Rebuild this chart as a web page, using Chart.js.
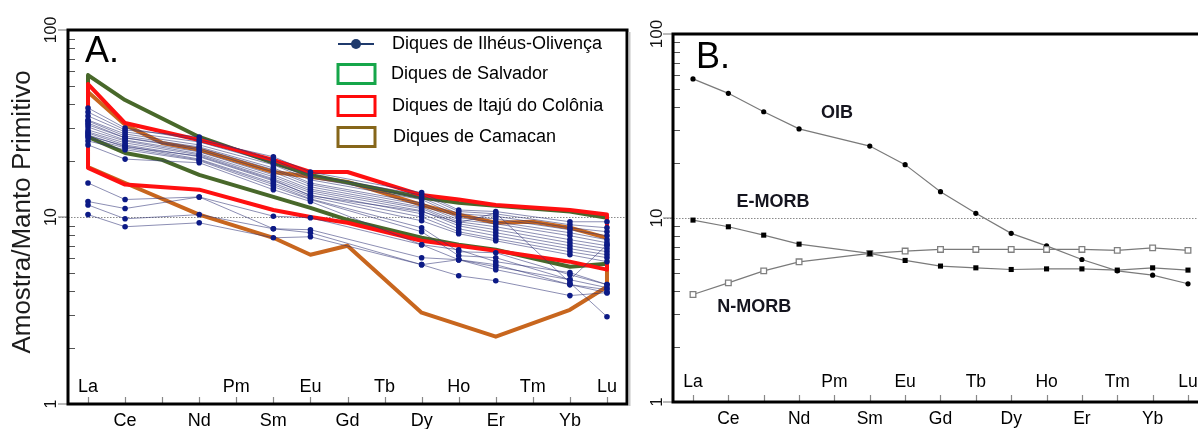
<!DOCTYPE html>
<html lang="pt">
<head>
<meta charset="utf-8">
<title>ETR normalizados ao manto primitivo</title>
<script src="https://cdn.jsdelivr.net/npm/chart.js@4.4.1/dist/chart.umd.min.js"></script>
<style>
  html, body { margin: 0; padding: 0; background: #fff; overflow: hidden; }
  #painel { position: relative; width: 1198px; height: 429px; overflow: hidden; }
  #graficoA { position: absolute; left: 0; top: 0; }
  #graficoB { position: absolute; left: 640px; top: 0; }
</style>
</head>
<body>
<div id="painel">
  <canvas id="graficoA" width="640" height="429"></canvas>
  <canvas id="graficoB" width="580" height="429"></canvas>
</div>
<script>
// Elementos terras raras na ordem do diagrama
const elementos = ['La', 'Ce', 'Pr', 'Nd', 'Pm', 'Sm', 'Eu', 'Gd', 'Tb', 'Dy', 'Ho', 'Er', 'Tm', 'Yb', 'Lu'];
const rotulosDentro = ['La', 'Pm', 'Eu', 'Tb', 'Ho', 'Tm', 'Lu'];
const rotulosFora = ['Ce', 'Nd', 'Sm', 'Gd', 'Dy', 'Er', 'Yb'];
const ticksY = [1, 10, 100];

// Elementos analisados nas amostras de Ilhéus-Olivença
const elementosAmostras = ['La', 'Ce', 'Nd', 'Sm', 'Eu', 'Dy', 'Ho', 'Er', 'Yb', 'Lu'];

// Diques de Ilhéus-Olivença (amostra / manto primitivo)
const amostrasIlheus = [
    [38.3, 29.9, 25.8, 21.0, 17.4, 13.5, 10.9, 10.7, 9.43, 9.43],
    [36.4, 29.2, 26.8, 20.2, 16.8, 13.1, 10.7, 10.4, 9.09, 8.76],
    [34.7, 28.5, 25.2, 19.5, 16.2, 12.7, 10.4, 10.1, 8.76, 8.34],
    [33.0, 27.8, 24.3, 19.0, 15.8, 12.4, 10.1, 9.78, 8.55, 7.94],
    [32.6, 27.1, 23.7, 18.3, 15.2, 11.9, 9.90, 9.43, 8.24, 7.56],
    [31.8, 26.5, 23.4, 17.9, 14.9, 11.6, 9.66, 9.20, 7.94, 7.28],
    [31.1, 26.5, 22.9, 17.4, 14.5, 11.3, 9.43, 8.87, 7.56, 7.02],
    [30.3, 25.8, 22.3, 16.8, 14.1, 11.1, 9.20, 8.55, 7.28, 6.77],
    [29.2, 25.5, 21.8, 16.4, 13.8, 10.8, 8.97, 8.24, 7.02, 6.52],
    [28.5, 24.9, 21.5, 16.0, 13.5, 10.4, 8.65, 7.94, 6.77, 6.28],
    [28.1, 24.3, 21.0, 15.6, 13.1, 10.0, 8.34, 7.65, 6.52, 6.06],
    [27.1, 24.0, 20.4, 15.2, 12.8, 9.54, 8.14, 7.46, 6.28, 5.77],
    [26.5, 23.4, 20.2, 14.9, 12.5, 8.76, 6.52, 6.44, 4.91, 4.35],
    [25.5, 22.9, 20.0, 14.5, 12.4, 8.34, 6.21, 6.06, 4.62, 7.11],
    [24.3, 20.4, 19.5, 14.0, 12.1, 7.11, 5.91, 5.56, 4.35, 3.94],
    [27.5, 23.7, 21.2, 15.8, 13.0, 10.7, 9.31, 10.5, 4.45, 2.93],
    [15.2, 12.4, 12.8, 10.1, 9.90, 7.11, 6.68, 5.77, 5.04, 4.35],
    [12.1, 11.1, 12.8, 8.65, 8.55, 6.06, 5.91, 5.23, 4.35, 4.09],
    [11.6, 9.78, 10.3, 8.65, 8.24, 5.56, 4.85, 4.56, 3.80, 3.94],
    [10.3, 8.87, 9.31, 7.74, 7.84, 5.56, 5.91, 5.42, 4.62, 4.19]
];

// Envoltórias dos outros enxames (limite superior / inferior, null = sem vértice)
const salvadorSup = [57.4, 42.2, null, 26.8, null, 19.5, 16.8, null, null, 12.7, 11.9, 11.5, null, 10.7, 9.90];
const salvadorInf = [26.8, 22.0, 20.2, 16.8, null, 12.8, 11.2, 9.66, null, 7.74, 7.11, 6.68, null, 5.42, 5.62];
const itajuSup = [51.4, 31.8, null, 25.8, null, 20.2, 17.4, 17.4, null, 13.1, 12.4, 11.6, null, 10.9, 10.3];
const itajuInf = [18.3, 14.9, null, 14.0, null, 10.9, 10.0, 9.31, null, 7.46, 7.02, 6.60, null, 5.77, 5.23];
const camacanSup = [46.6, 31.1, 24.9, 22.9, null, 17.4, 16.4, 15.4, null, 11.6, 10.3, 9.31, 9.43, 8.76, 7.74];
const camacanInf = [18.5, 15.2, null, 10.3, null, 7.74, 6.28, 7.02, null, 3.08, null, 2.29, null, 3.19, 4.24];

// Referências (painel B)
const oib = [57.0, 47.6, 37.8, 30.5, null, 24.6, 19.5, 13.9, 10.6, 8.25, 7.06, 5.95, 5.16, 4.89, 4.39];
const eMorb = [9.74, 8.96, 8.07, 7.21, null, 6.42, 5.88, 5.48, 5.36, 5.25, 5.29, 5.29, 5.21, 5.36, 5.21];
const nMorb = [3.84, 4.44, 5.16, 5.78, null, 6.42, 6.61, 6.75, 6.75, 6.75, 6.75, 6.75, 6.67, 6.88, 6.67];

const fonte = '"Liberation Sans", Arial, sans-serif';

// converte uma lista alinhada com "elementos" em pontos {x, y}
function pontos(valores) {
    const pts = [];
    valores.forEach((v, i) => { if (v !== null) pts.push({ x: i, y: v }); });
    return pts;
}

// polígono fechado: limite superior La->Lu e inferior Lu->La
function envoltoria(sup, inf) {
    const pts = pontos(sup);
    pontos(inf).reverse().forEach(p => pts.push(p));
    pts.push(pts[0]);
    return pts;
}

// moldura, marcas dos eixos, rótulos e textos desenhados sobre o gráfico
function moldura(cfg) {
    return {
        id: 'moldura',
        beforeDatasetsDraw(chart) {
            const { ctx, chartArea: a, scales: { y } } = chart;
            const y10 = Math.round(y.getPixelForValue(10)) + 0.5;
            ctx.save();
            ctx.strokeStyle = '#8a8a8a';
            ctx.lineWidth = 1;
            ctx.setLineDash([1.5, 1.5]);
            ctx.beginPath();
            ctx.moveTo(a.left - 9, y10);
            ctx.lineTo(a.right, y10);
            ctx.stroke();
            ctx.restore();
        },
        afterDraw(chart) {
            const { ctx, chartArea: a, scales: { x, y } } = chart;
            ctx.save();

            // marcas menores do eixo log (para dentro)
            ctx.strokeStyle = '#555';
            ctx.lineWidth = 1;
            ctx.beginPath();
            [1, 10].forEach(d => {
                for (let k = 2; k <= 9; k++) {
                    const py = Math.round(y.getPixelForValue(d * k)) + 0.5;
                    ctx.moveTo(a.left, py);
                    ctx.lineTo(a.left + 7, py);
                }
            });
            ctx.stroke();

            // marcas maiores (para fora) e rótulos girados
            ctx.strokeStyle = '#777';
            ctx.lineWidth = 1.2;
            ctx.beginPath();
            ticksY.forEach(v => {
                const py = y.getPixelForValue(v);
                ctx.moveTo(a.left - 10, py);
                ctx.lineTo(a.left, py);
            });
            ctx.stroke();
            ctx.fillStyle = '#111';
            ctx.font = cfg.fonteTicks + 'px ' + fonte;
            ctx.textAlign = 'center';
            ctx.textBaseline = 'middle';
            ticksY.forEach(v => {
                ctx.save();
                ctx.translate(cfg.xTicks, y.getPixelForValue(v));
                ctx.rotate(-Math.PI / 2);
                ctx.fillText(String(v), 0, 0);
                ctx.restore();
            });

            // marcas do eixo x (para dentro)
            ctx.strokeStyle = '#888';
            ctx.lineWidth = 1.2;
            ctx.beginPath();
            elementos.forEach((el, i) => {
                const px = Math.round(x.getPixelForValue(i)) + 0.5;
                ctx.moveTo(px, a.bottom);
                ctx.lineTo(px, a.bottom - 7);
            });
            ctx.stroke();

            ctx.fillStyle = '#000';
            ctx.font = cfg.fonteX + 'px ' + fonte;
            rotulosDentro.forEach(el => {
                ctx.fillText(el, x.getPixelForValue(elementos.indexOf(el)), cfg.yDentro);
            });
            rotulosFora.forEach(el => {
                ctx.fillText(el, x.getPixelForValue(elementos.indexOf(el)), cfg.yFora);
            });

            // moldura
            ctx.strokeStyle = '#000';
            ctx.lineWidth = 3;
            ctx.strokeRect(a.left, a.top, a.right - a.left, a.bottom - a.top);
            if (cfg.sombra) {
                ctx.strokeStyle = '#c4c4c4';
                ctx.lineWidth = 2;
                ctx.beginPath();
                ctx.moveTo(a.right + 2.5, a.top + 2);
                ctx.lineTo(a.right + 2.5, a.bottom + 2);
                ctx.stroke();
            }

            // letra do painel
            ctx.fillStyle = '#000';
            ctx.font = '36px ' + fonte;
            ctx.textAlign = 'left';
            ctx.textBaseline = 'alphabetic';
            ctx.fillText(cfg.letra, cfg.letraX, cfg.letraY);

            // título do eixo y
            if (cfg.tituloY) {
                ctx.save();
                ctx.translate(23, 212);
                ctx.rotate(-Math.PI / 2);
                ctx.font = '26px ' + fonte;
                ctx.fillStyle = '#1c1c1c';
                ctx.textAlign = 'center';
                ctx.textBaseline = 'middle';
                ctx.fillText(cfg.tituloY, 0, 0);
                ctx.restore();
            }

            // legenda
            if (cfg.legenda) {
                ctx.font = '18px ' + fonte;
                ctx.textAlign = 'left';
                ctx.textBaseline = 'middle';
                cfg.legenda.forEach(item => {
                    if (item.tipo === 'linha') {
                        ctx.strokeStyle = item.cor;
                        ctx.lineWidth = 1.8;
                        ctx.beginPath();
                        ctx.moveTo(338, item.y);
                        ctx.lineTo(374, item.y);
                        ctx.stroke();
                        ctx.fillStyle = item.cor;
                        ctx.beginPath();
                        ctx.arc(356, item.y, 5, 0, Math.PI * 2);
                        ctx.fill();
                    } else {
                        ctx.strokeStyle = item.cor;
                        ctx.lineWidth = 3;
                        ctx.strokeRect(338, item.y - 9.5, 37, 19);
                    }
                    ctx.fillStyle = '#000';
                    ctx.fillText(item.texto, item.tx, item.y);
                });
            }

            // nomes das curvas de referência
            if (cfg.notas) {
                ctx.font = 'bold 18px ' + fonte;
                ctx.fillStyle = '#15151f';
                ctx.textAlign = 'center';
                ctx.textBaseline = 'middle';
                cfg.notas.forEach(n => {
                    ctx.fillText(n.texto, x.getPixelForValue(n.x), y.getPixelForValue(n.y));
                });
            }
            ctx.restore();
        }
    };
}

function opcoes(xMin, xMax, padding) {
    return {
        responsive: false,
        animation: false,
        layout: { padding: padding },
        scales: {
            x: { type: 'linear', min: xMin, max: xMax, display: false },
            y: { type: 'logarithmic', min: 1, max: 100, display: false }
        },
        plugins: {
            legend: { display: false },
            tooltip: { enabled: false }
        }
    };
}

document.addEventListener('DOMContentLoaded', function () {
    // Painel A: diques de Ilhéus-Olivença e envoltórias
    const dadosA = amostrasIlheus.map(amostra => ({
        data: amostra.map((v, k) => ({ x: elementos.indexOf(elementosAmostras[k]), y: v })),
        borderColor: 'rgba(46, 50, 116, 0.55)',
        borderWidth: 1,
        pointRadius: 2.8,
        pointBackgroundColor: '#0c1a86',
        pointBorderWidth: 0,
        order: 0
    }));
    [
        [itajuSup, itajuInf, '#ff1010', 1],
        [salvadorSup, salvadorInf, '#48682a', 2],
        [camacanSup, camacanInf, '#c8661e', 3]
    ].forEach(([sup, inf, cor, ordem]) => {
        dadosA.push({
            data: envoltoria(sup, inf),
            borderColor: cor,
            borderWidth: 4,
            borderJoinStyle: 'round',
            borderCapStyle: 'round',
            pointRadius: 0,
            fill: false,
            order: ordem
        });
    });

    new Chart(document.getElementById('graficoA'), {
        type: 'line',
        data: { datasets: dadosA },
        options: opcoes(-0.54, 14.54, { left: 68, top: 30, right: 13, bottom: 25 }),
        plugins: [moldura({
            letra: 'A.', letraX: 85, letraY: 62,
            xTicks: 52, fonteTicks: 16, fonteX: 18, yDentro: 387, yFora: 421,
            tituloY: 'Amostra/Manto Primitivo',
            sombra: true,
            legenda: [
                { tipo: 'linha', cor: '#1f3a6c', texto: 'Diques de Ilhéus-Olivença', y: 44, tx: 392 },
                { tipo: 'caixa', cor: '#16a64a', texto: 'Diques de Salvador', y: 74, tx: 391 },
                { tipo: 'caixa', cor: '#ff0a0a', texto: 'Diques de Itajú do Colônia', y: 106, tx: 392 },
                { tipo: 'caixa', cor: '#86661a', texto: 'Diques de Camacan', y: 137, tx: 393 }
            ]
        })]
    });

    // Painel B: OIB, E-MORB e N-MORB
    new Chart(document.getElementById('graficoB'), {
        type: 'line',
        data: {
            datasets: [{
                label: 'E-MORB',
                data: pontos(eMorb),
                borderColor: '#7a7a7a',
                borderWidth: 1.2,
                pointStyle: 'rect',
                pointRadius: 3.6,
                pointBackgroundColor: '#000',
                pointBorderColor: '#000',
                pointBorderWidth: 0,
                order: 0
            }, {
                label: 'N-MORB',
                data: pontos(nMorb),
                borderColor: '#7a7a7a',
                borderWidth: 1.2,
                pointStyle: 'rect',
                pointRadius: 4,
                pointBackgroundColor: '#fff',
                pointBorderColor: '#808080',
                pointBorderWidth: 1.3,
                order: 1
            }, {
                label: 'OIB',
                data: pontos(oib),
                borderColor: '#7a7a7a',
                borderWidth: 1.2,
                pointStyle: 'circle',
                pointRadius: 2.6,
                pointBackgroundColor: '#000',
                pointBorderWidth: 0,
                order: 2
            }]
        },
        options: opcoes(-0.5656, 14.566, { left: 33, top: 34, right: 12, bottom: 27 }),
        plugins: [moldura({
            letra: 'B.', letraX: 56, letraY: 68,
            xTicks: 17, fonteTicks: 17, fonteX: 17.5, yDentro: 382, yFora: 419,
            notas: [
                { texto: 'OIB', x: 4.07, y: 37.2 },
                { texto: 'E-MORB', x: 2.26, y: 12.2 },
                { texto: 'N-MORB', x: 1.73, y: 3.27 }
            ]
        })]
    });
});
</script>
</body>
</html>
